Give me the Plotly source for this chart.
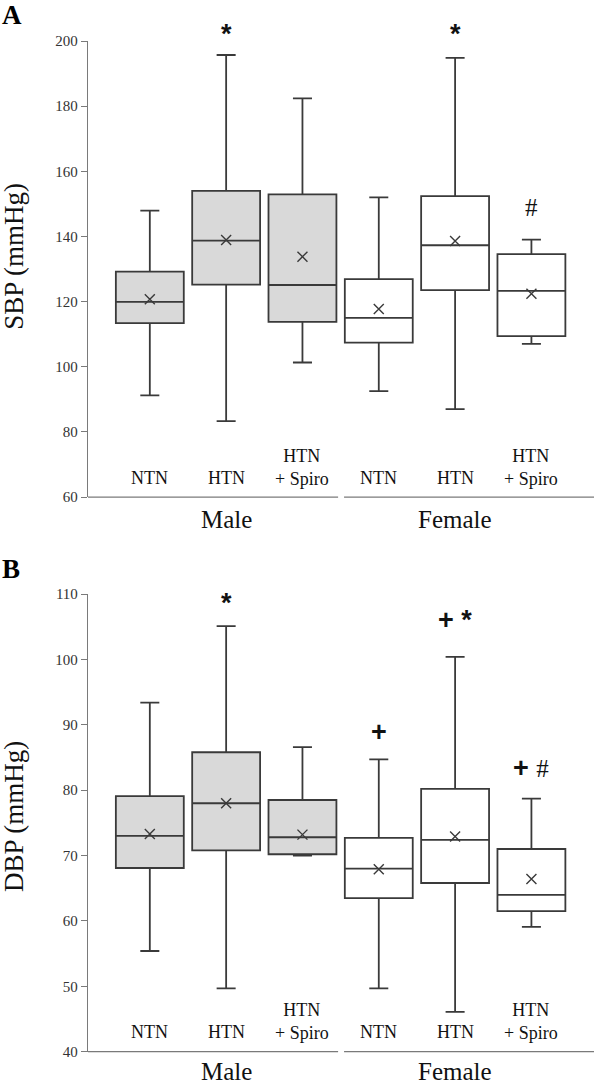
import plotly.graph_objects as go

# ---------------- data ----------------
groups = ["Male", "Male", "Male", "Female", "Female", "Female"]
categories = ["NTN", "HTN", "HTN<br>+ Spiro", "NTN", "HTN", "HTN<br>+ Spiro"]

# Panel A: SBP (mmHg)
sbp_lower = [91.2, 83.3, 101.3, 92.5, 87.0, 107.0]
sbp_q1 = [113.4, 125.2, 113.8, 107.4, 123.5, 109.4]
sbp_median = [119.9, 138.7, 125.1, 115.0, 137.3, 123.3]
sbp_q3 = [129.2, 154.0, 152.9, 126.9, 152.4, 134.6]
sbp_upper = [147.9, 195.7, 182.4, 152.0, 194.8, 139.0]
sbp_mean = [120.7, 138.9, 133.8, 117.7, 138.6, 122.4]
sbp_marks = ["", "*", "", "", "*", "#"]

# Panel B: DBP (mmHg)
dbp_lower = [55.4, 49.7, 70.0, 49.7, 46.1, 59.1]
dbp_q1 = [68.1, 70.8, 70.2, 63.5, 65.8, 61.5]
dbp_median = [73.0, 78.0, 72.8, 68.0, 72.4, 64.0]
dbp_q3 = [79.1, 85.8, 78.5, 72.7, 80.2, 71.0]
dbp_upper = [93.4, 105.1, 86.6, 84.7, 100.4, 78.7]
dbp_mean = [73.3, 78.0, 73.2, 67.9, 72.9, 66.4]
dbp_marks = ["", "*", "", "+", "+ *", "+ #"]

sbp_ticks = [60, 80, 100, 120, 140, 160, 180, 200]
dbp_ticks = [40, 50, 60, 70, 80, 90, 100, 110]

# ---------------- style ----------------
SERIF = "Liberation Serif, Times New Roman, serif"
SANS = "Liberation Sans, Arial, sans-serif"
LINE = "#3a3a3a"
AX = "#7a7a7a"
MALE_FILL = "#d9d9d9"
FEMALE_FILL = "#ffffff"
XR = [-0.81, 5.82]
PLOT_W = 596 - 88 - 2  # width of the paper area in px

fig = go.Figure()
xs = list(range(len(categories)))

panels = [
    dict(xa="x", ya="y", lo=sbp_lower, q1=sbp_q1, md=sbp_median, q3=sbp_q3,
         up=sbp_upper, mn=sbp_mean, marks=sbp_marks),
    dict(xa="x2", ya="y2", lo=dbp_lower, q1=dbp_q1, md=dbp_median, q3=dbp_q3,
         up=dbp_upper, mn=dbp_mean, marks=dbp_marks),
]

for p in panels:
    for i in xs:
        fill = MALE_FILL if groups[i] == "Male" else FEMALE_FILL
        fig.add_trace(go.Box(
            x=[i], q1=[p["q1"][i]], median=[p["md"][i]], q3=[p["q3"][i]],
            lowerfence=[p["lo"][i]], upperfence=[p["up"][i]],
            width=0.89, whiskerwidth=0.28, fillcolor=fill,
            line=dict(color=LINE, width=1.8), boxpoints=False,
            xaxis=p["xa"], yaxis=p["ya"], showlegend=False, hoverinfo="skip"))
    fig.add_trace(go.Scatter(
        x=xs, y=p["mn"], mode="markers",
        marker=dict(symbol="x-thin", size=10, line=dict(color=LINE, width=1.4)),
        xaxis=p["xa"], yaxis=p["ya"], showlegend=False, hoverinfo="skip"))


def mark_text(m):
    out = []
    for ch in m:
        if ch in "*+":
            out.append("<b>" + ch + "</b>")
        elif ch == "#":
            out.append('<span style="font-family:%s;font-size:25px">#</span>'
                       % SERIF.split(",")[0])
        else:
            out.append(ch)
    return "".join(out)


ann = []
# label placement (fractions of each y-axis domain)
label_cfg = [
    dict(xr="x", yr="y", single=0.0417, double=0.0647, group=-0.050,
         marky=[None, 1.016, None, None, 1.016, 0.636],
         title="SBP (mmHg)", title_y=0.527,
         letter="A", lettery=1 - 15 / 1085),
    dict(xr="x2", yr="y2", single=0.0436, double=0.0659, group=-0.044,
         marky=[None, 0.981, None, 0.699, 0.944, 0.619],
         title="DBP (mmHg)", title_y=0.513,
         letter="B", lettery=1 - 569 / 1085),
]
for p, c in zip(panels, label_cfg):
    ydom = c["yr"] + " domain"
    for i in xs:
        two = "<br>" in categories[i]
        ann.append(dict(x=i, y=c["double"] if two else c["single"],
                        xref=c["xr"], yref=ydom, text=categories[i],
                        showarrow=False, yanchor="middle",
                        font=dict(family=SERIF, size=18, color="#111")))
        if p["marks"][i]:
            ann.append(dict(x=i, y=c["marky"][i], xref=c["xr"], yref=ydom,
                            text=mark_text(p["marks"][i]), showarrow=False,
                            yanchor="middle",
                            font=dict(family=SANS, size=27, color="#111")))
    ann.append(dict(x=1, y=c["group"], xref=c["xr"], yref=ydom, text="Male",
                    showarrow=False, yanchor="middle",
                    font=dict(family=SERIF, size=25, color="#111")))
    ann.append(dict(x=4, y=c["group"], xref=c["xr"], yref=ydom, text="Female",
                    showarrow=False, yanchor="middle",
                    font=dict(family=SERIF, size=25, color="#111")))
    ann.append(dict(x=(14 - 88) / PLOT_W, y=c["title_y"], xref="paper",
                    yref=ydom, text=c["title"], textangle=-90,
                    showarrow=False, xanchor="center", yanchor="middle",
                    font=dict(family=SERIF, size=27, color="#111")))

for c in label_cfg:
    ann.append(dict(x=-88 / PLOT_W, y=c["lettery"], xref="paper", yref="paper",
                    text="<b>" + c["letter"] + "</b>", showarrow=False,
                    xanchor="left", yanchor="middle",
                    font=dict(family=SERIF, size=27, color="#000")))

shapes = []
for c in label_cfg:
    for x0, x1 in [(XR[0], 2.467), (2.545, XR[1])]:
        shapes.append(dict(type="line", xref=c["xr"], yref=c["yr"] + " domain",
                           x0=x0, x1=x1, y0=0, y1=0,
                           line=dict(color=AX, width=1.3)))

yax_common = dict(showgrid=False, zeroline=False, showline=True, linecolor=AX,
                  linewidth=1.3, ticks="outside", ticklen=6, tickcolor=AX,
                  automargin=False,
                  tickfont=dict(family=SERIF, size=15, color="#333"))
xax_common = dict(range=XR, showgrid=False, zeroline=False, showline=False,
                  showticklabels=False, ticks="", automargin=False)

fig.update_layout(
    template="none",
    width=596, height=1085,
    margin=dict(l=88, r=2, t=0, b=0, pad=0),
    plot_bgcolor="white", paper_bgcolor="white",
    xaxis=dict(**xax_common, anchor="y", domain=[0, 1]),
    yaxis=dict(**yax_common, range=[60, 200], tickvals=sbp_ticks,
               domain=[0.5419, 0.9622], anchor="x"),
    xaxis2=dict(**xax_common, anchor="y2", domain=[0, 1]),
    yaxis2=dict(**yax_common, range=[40, 110], tickvals=dbp_ticks,
                domain=[0.0307, 0.4525], anchor="x2"),
    annotations=ann, shapes=shapes,
)

fig.write_html("out.html", config={"displayModeBar": False},
               post_script="document.body.style.margin='0px';")
